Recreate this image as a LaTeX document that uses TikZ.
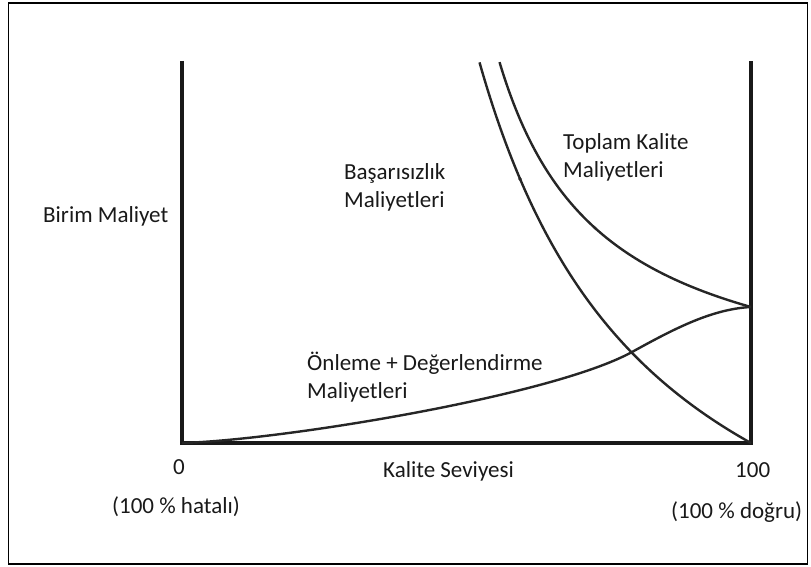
\documentclass[tikz,border=0pt]{standalone}
\usepackage{fontspec}
\setmainfont{Carlito}
\begin{document}
\begin{tikzpicture}[x=1pt,y=-1pt,
  axisline/.style={line width=3.4pt,draw=black!90},
  costcurve/.style={line width=2.4pt,draw=black!85},
  lbl/.style={inner sep=0pt,anchor=base west,font=\fontsize{23}{28}\selectfont,text=black!90},
  frameline/.style={line width=1.8pt,draw=black}]
\useasboundingbox (0,0) rectangle (811,567);

% outer frame
\draw[frameline] (8.5,3) rectangle (807.5,564);

% axes
\coordinate (ytop) at (182,61);
\coordinate (O) at (182,443);
\coordinate (X) at (751,443);
\coordinate (rtop) at (751,61);
\coordinate (M) at (751,307);
\coordinate (C) at (632,352);
\draw[axisline] (ytop) -- (O) -- (X) -- (rtop);

% failure costs: hyperbola ending at the 100 mark
\draw[costcurve] plot[domain=479.5:751,samples=120,smooth,variable=\x]
  ({\x},{694.7-1135/((\x-300)/100)});
% total quality costs
\draw[costcurve] plot[domain=499.5:751,samples=120,smooth,variable=\x]
  ({\x},{407.8-357.79/((\x-396)/100)});
% prevention + appraisal costs
\draw[costcurve] (O) .. controls (282,440) and (552,396) .. (C)
                     .. controls (672,330) and (711,309) .. (M);

% small specks on the curves
\fill[black!85] (520,179) circle (1.8);
\fill[black!85] (595,228) circle (1.6);

% labels
\node[lbl] (ylab) at (43,222) {Birim Maliyet};
\node[lbl,align=left] (fail) at (344,207) {Başarısızlık\\Maliyetleri};
\node[lbl,align=left] (total) at (563,177) {Toplam Kalite\\Maliyetleri};
\node[lbl,align=left] (prev) at (307,398) {Önleme + Değerlendirme\\Maliyetleri};
\node[lbl] (zero) at (173,474) {0};
\node[lbl] (xlab) at (383,477) {Kalite Seviyesi};
\node[lbl] (hundred) at (735,477) {100};
\node[lbl] (bad) at (112,513) {(100 \% hatalı)};
\node[lbl] (good) at (671,518) {(100 \% doğru)};
\end{tikzpicture}
\end{document}
